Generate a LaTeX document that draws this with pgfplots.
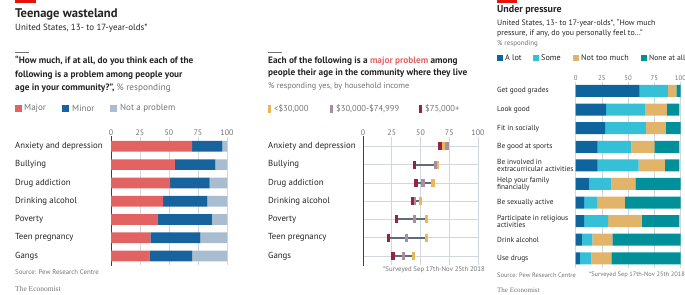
\documentclass[border=0pt]{standalone}
\usepackage{pgfplots}
\pgfplotsset{compat=1.18}
\usepackage{fontspec}
\setmainfont{PT Sans}
\newfontfamily\econ{Liberation Serif}
\definecolor{econred}{RGB}{227,18,11}
\definecolor{major}{RGB}{227,99,98}
\definecolor{minor}{RGB}{22,99,158}
\definecolor{notprob}{RGB}{168,189,207}
\definecolor{alot}{RGB}{14,100,156}
\definecolor{some}{RGB}{54,192,215}
\definecolor{ntm}{RGB}{226,180,106}
\definecolor{noneatall}{RGB}{0,144,153}
\definecolor{incA}{RGB}{234,184,88}
\definecolor{incB}{RGB}{168,142,160}
\definecolor{incC}{RGB}{150,35,65}
\definecolor{dumb}{RGB}{95,108,122}
\definecolor{gridc}{RGB}{208,215,222}
\definecolor{txt}{RGB}{35,35,35}
\definecolor{gtxt}{RGB}{115,115,115}
\newcommand\fs[1]{\fontsize{#1}{#1}\selectfont}
\begin{document}
\begin{tikzpicture}
\path[use as bounding box] (0,0) rectangle (685bp,-295bp);
% ---------------- Panel 1 ----------------
\fill[econred] (15bp,0bp) rectangle (36bp,-3bp);
\node[anchor=west,inner sep=0,text=txt] at (15bp,-14bp) {\fs{12.6}\bfseries Teenage wasteland};
\node[anchor=west,inner sep=0,text=txt] at (15bp,-28bp) {\fs{9}United States, 13- to 17-year-olds*};
\draw[gtxt,line width=0.8bp] (15bp,-52bp) -- (29bp,-52bp);
\node[anchor=west,inner sep=0,text=txt] at (15bp,-61bp) {\fs{9.3}\bfseries ``How much, if at all, do you think each of the};
\node[anchor=west,inner sep=0,text=txt] at (15bp,-75bp) {\fs{9.3}\bfseries following is a problem among people your};
\node[anchor=west,inner sep=0,text=txt] at (15bp,-88bp) {\fs{9.3}\textbf{age in your community?'', }{\color{gtxt}\% responding}};
\fill[major] (15bp,-105bp) rectangle (22bp,-112bp);
\node[anchor=west,inner sep=0,text=gtxt] at (24bp,-108.5bp) {\fs{9}Major};
\fill[minor] (62bp,-105bp) rectangle (69bp,-112bp);
\node[anchor=west,inner sep=0,text=gtxt] at (72bp,-108.5bp) {\fs{9}Minor};
\fill[notprob] (110bp,-105bp) rectangle (117bp,-112bp);
\node[anchor=west,inner sep=0,text=gtxt] at (120bp,-108.5bp) {\fs{9}Not a problem};
\begin{axis}[at={(111bp,-137.2bp)}, anchor=north west,
  scale only axis, width=116bp, height=128bp,
  xbar stacked, bar width=10.7bp,
  xmin=0, xmax=100, ymin=-0.5, ymax=6.5, y dir=reverse,
  axis line style={draw=none}, major tick length=0pt,
  xtick={0,25,50,75,100}, xticklabel pos=upper,
  xmajorgrids, grid style={gridc, line width=0.6bp},
  ytick={0,...,6},
  yticklabels={Anxiety and depression,Bullying,Drug addiction,Drinking alcohol,Poverty,Teen pregnancy,Gangs},
  yticklabel style={anchor=west, inner sep=0pt, xshift=-96bp, font=\fs{8.8}, text=txt},
  xticklabel style={font=\fs{8}, text=gtxt, inner sep=1bp},
  /pgf/number format/assume math mode=true,
  clip=false]
\addplot[fill=major, draw=none] coordinates {(70,0) (55,1) (51,2) (45,3) (40,4) (34,5) (33,6)};
\addplot[fill=minor, draw=none] coordinates {(26,0) (35,1) (34,2) (38,3) (47,4) (43,5) (37,6)};
\addplot[fill=notprob, draw=none] coordinates {(4,0) (10,1) (15,2) (17,3) (13,4) (23,5) (30,6)};
\draw[black!75, line width=0.8bp] (axis cs:0,-0.55) -- (axis cs:0,6.55);
\end{axis}
\node[anchor=west,inner sep=0,text=gtxt] at (15bp,-272bp) {\fs{6.8}Source: Pew Research Centre};
\node[anchor=west,inner sep=0,text=gtxt] at (15bp,-289bp) {\fs{7.5}\econ The Economist};
% ---------------- Panel 2 ----------------
\draw[gtxt,line width=0.8bp] (268bp,-52bp) -- (282bp,-52bp);
\node[anchor=west,inner sep=0,text=txt] at (268bp,-61bp) {\fs{9.3}\bfseries Each of the following is a {\color{major}major problem} among};
\node[anchor=west,inner sep=0,text=txt] at (268bp,-73bp) {\fs{9.3}\bfseries people their age in the community where they live};
\node[anchor=west,inner sep=0,text=gtxt] at (268bp,-86bp) {\fs{8.3}\% responding yes, by household income};
\fill[incA] (268bp,-105bp) rectangle (271bp,-113bp);
\node[anchor=west,inner sep=0,text=gtxt] at (274bp,-109bp) {\fs{8.6}<\$30,000};
\fill[incB] (330bp,-105bp) rectangle (333bp,-113bp);
\node[anchor=west,inner sep=0,text=gtxt] at (336bp,-109bp) {\fs{8.6}\$30,000-\$74,999};
\fill[incC] (419bp,-105bp) rectangle (422bp,-113bp);
\node[anchor=west,inner sep=0,text=gtxt] at (425bp,-109bp) {\fs{8.6}\$75,000+};
\begin{axis}[at={(363bp,-137.2bp)}, anchor=north west,
  scale only axis, width=115bp, height=128bp,
  xmin=0, xmax=100, ymin=-0.5, ymax=6.5, y dir=reverse,
  axis line style={draw=none}, major tick length=0pt,
  xtick={0,25,50,75,100}, xticklabel pos=upper,
  xmajorgrids, ymajorgrids, grid style={gridc, line width=0.6bp},
  ytick={0,...,6},
  yticklabels={Anxiety and depression,Bullying,Drug addiction,Drinking alcohol,Poverty,Teen pregnancy,Gangs},
  yticklabel style={anchor=west, inner sep=0pt, xshift=-95bp, font=\fs{8.8}, text=txt},
  xticklabel style={font=\fs{8}, text=gtxt, inner sep=1bp},
  /pgf/number format/assume math mode=true,
  clip=false]
\addplot[color=dumb, line width=2bp, mark=none] coordinates {(67,0) (73,0)};
\addplot[color=dumb, line width=2bp, mark=none] coordinates {(45,1) (65,1)};
\addplot[color=dumb, line width=2bp, mark=none] coordinates {(46,2) (61,2)};
\addplot[color=dumb, line width=2bp, mark=none] coordinates {(43,3) (50,3)};
\addplot[color=dumb, line width=2bp, mark=none] coordinates {(29,4) (55,4)};
\addplot[color=dumb, line width=2bp, mark=none] coordinates {(22,5) (55,5)};
\addplot[color=dumb, line width=2bp, mark=none] coordinates {(26,6) (44,6)};
\draw[black!75, line width=0.8bp] (axis cs:0,-0.55) -- (axis cs:0,6.55);
\addplot[only marks, mark=|, mark size=4bp, mark options={incA, line width=3.4bp}] coordinates {(70,0) (65,1) (61,2) (50,3) (55,4) (55,5) (44,6)};
\addplot[only marks, mark=|, mark size=4bp, mark options={incB, line width=3.4bp}] coordinates {(73,0) (63,1) (52,2) (45,3) (45,4) (38,5) (35,6)};
\addplot[only marks, mark=|, mark size=4bp, mark options={incC, line width=3.4bp}] coordinates {(67,0) (45,1) (46,2) (43,3) (29,4) (22,5) (26,6)};
\end{axis}
\node[anchor=east,inner sep=0,text=gtxt] at (485bp,-270bp) {\fs{6.8}*Surveyed Sep 17th-Nov 25th 2018};
% ---------------- Panel 3 ----------------
\fill[econred] (497bp,0bp) rectangle (517bp,-3bp);
\node[anchor=west,inner sep=0,text=txt] at (497bp,-10bp) {\fs{10}\bfseries Under pressure};
\node[anchor=west,inner sep=0,text=txt] at (497bp,-23bp) {\fs{7.9}United States, 13- to 17-year-olds*, ``How much};
\node[anchor=west,inner sep=0,text=txt] at (497bp,-33.5bp) {\fs{7.9}pressure, if any, do you personally feel to...''};
\node[anchor=west,inner sep=0,text=gtxt] at (497bp,-44bp) {\fs{7}\% responding};
\fill[alot] (497bp,-55bp) rectangle (503bp,-61bp);
\node[anchor=west,inner sep=0,text=txt] at (505bp,-58bp) {\fs{8.2}A lot};
\fill[some] (533bp,-55bp) rectangle (539bp,-61bp);
\node[anchor=west,inner sep=0,text=txt] at (541bp,-58bp) {\fs{8.2}Some};
\fill[ntm] (573bp,-55bp) rectangle (579bp,-61bp);
\node[anchor=west,inner sep=0,text=txt] at (581bp,-58bp) {\fs{8.2}Not too much};
\fill[noneatall] (641bp,-55bp) rectangle (647bp,-61bp);
\node[anchor=west,inner sep=0,text=txt] at (649bp,-58bp) {\fs{7.7}None at all};
\begin{axis}[at={(575.7bp,-81.7bp)}, anchor=north west,
  scale only axis, width=104.8bp, height=185.9bp,
  xbar stacked, bar width=12bp,
  xmin=0, xmax=100, ymin=-0.5, ymax=9.5, y dir=reverse,
  axis line style={draw=none}, major tick length=0pt,
  xtick={0,25,50,75,100}, xticklabel pos=upper,
  xmajorgrids, grid style={gridc, line width=0.6bp},
  ytick={0,...,9},
  yticklabels={Get good grades,Look good,Fit in socially,Be good at sports,{Be involved in\\extracurricular activities},{Help your family\\financially},Be sexually active,{Participate in religious\\activities},Drink alcohol,Use drugs},
  yticklabel style={anchor=west, inner sep=0pt, xshift=-78.7bp, font=\fs{7.4}, text=txt, align=left},
  xticklabel style={font=\fs{6.8}, text=gtxt, inner sep=0.5bp},
  /pgf/number format/assume math mode=true,
  clip=false]
\addplot[fill=alot, draw=none] coordinates {(61,0) (29,1) (28,2) (21,3) (21,4) (13,5) (8,6) (8,7) (6,8) (4,9)};
\addplot[fill=some, draw=none] coordinates {(27,0) (37,1) (39,2) (32,3) (39,4) (21,5) (13,6) (23,7) (10,8) (11,9)};
\addplot[fill=ntm, draw=none] coordinates {(8,0) (21,1) (19,2) (22,3) (25,4) (23,5) (26,6) (32,7) (19,8) (19,9)};
\addplot[fill=noneatall, draw=none] coordinates {(4,0) (12,1) (14,2) (24,3) (14,4) (43,5) (53,6) (36,7) (65,8) (66,9)};
\end{axis}
\node[anchor=west,inner sep=0,text=gtxt] at (497bp,-275bp) {\fs{6.4}Source: Pew Research Centre};
\node[anchor=east,inner sep=0,text=gtxt] at (685bp,-275bp) {\fs{6.4}*Surveyed Sep 17th-Nov 25th 2018};
\node[anchor=west,inner sep=0,text=gtxt] at (497bp,-290bp) {\fs{7}\econ The Economist};
\end{tikzpicture}
\end{document}
